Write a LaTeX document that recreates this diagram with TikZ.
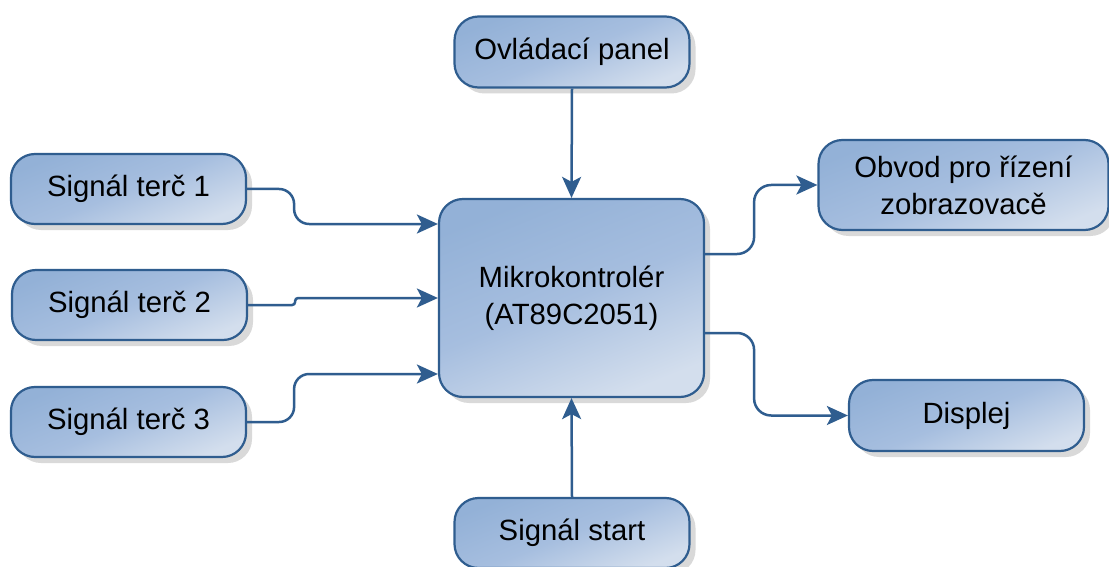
\documentclass[tikz,border=0pt]{standalone}
\usepackage{fontspec}
\setmainfont{Liberation Sans}
\usetikzlibrary{shadows,arrows.meta}
\definecolor{boxline}{HTML}{2F5D8F}
\definecolor{fillA}{HTML}{93B1D7}
\definecolor{fillM}{HTML}{A6BEDF}
\definecolor{fillB}{HTML}{D3DEED}
\definecolor{shadowc}{HTML}{D9D9D9}
\tikzset{
  blk/.style={draw=boxline, line width=2.2pt, rounded corners=24pt,
    top color=fillA, bottom color=fillB, middle color=fillM, shading angle=22,
    drop shadow={shadow xshift=6pt, shadow yshift=-6pt, fill=shadowc, opacity=1},
    align=center, inner sep=0pt, font=\fontsize{29.3}{37}\selectfont},
  conn/.style={draw=boxline, line width=2.5pt,
    -{Stealth[length=21pt,width=19pt,inset=5pt]}},
}
\begin{document}
\begin{tikzpicture}[x=1pt,y=-1pt]
\clip (0,0) rectangle (1109,567);
\fill[white] (0,0) rectangle (1109,567);
\node[blk, minimum width=235pt, minimum height=71pt] (panel) at (572,52) {Ovládací panel};
\node[blk, minimum width=235pt, minimum height=70pt] (t1) at (128.5,189) {Signál terč 1};
\node[blk, minimum width=235pt, minimum height=70pt] (t2) at (129.5,305) {Signál terč 2};
\node[blk, minimum width=235pt, minimum height=70pt] (t3) at (128.5,422) {Signál terč 3};
\node[blk, minimum width=265pt, minimum height=198pt] (mcu) at (571.5,298) {Mikrokontrolér\\(AT89C2051)};
\node[blk, minimum width=290pt, minimum height=90pt] (obv) at (963.5,185) {Obvod pro řízení\\zobrazovacě};
\node[blk, minimum width=235pt, minimum height=71pt] (disp) at (966.5,415.5) {Displej};
\node[blk, minimum width=235pt, minimum height=70pt] (start) at (572,533) {Signál start};
\draw[conn] (panel.south) -- (mcu.north);
\draw[conn] (start.north) -- (mcu.south);
\draw[conn, rounded corners=15pt] (t1.east) -- ++(47,0) |- ([yshift=74pt]mcu.west);
\draw[conn, rounded corners=3pt] (t2.east) -- ++(47,0) |- (mcu.west);
\draw[conn, rounded corners=15pt] (t3.east) -- ++(47,0) |- ([yshift=-76pt]mcu.west);
\draw[conn, rounded corners=17pt] ([yshift=44pt]mcu.east) -- ++(49,0) |- (obv.west);
\draw[conn, rounded corners=17pt] ([yshift=-35pt]mcu.east) -- ++(49,0) |- (disp.west);
\end{tikzpicture}
\end{document}
